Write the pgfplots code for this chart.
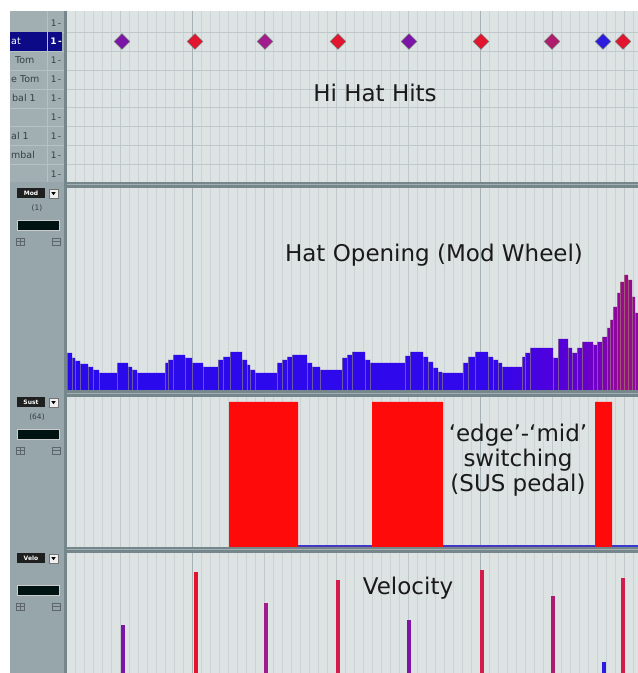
\documentclass[border=0pt]{standalone}
\usepackage{pgfplots}
\pgfplotsset{compat=1.18}
\usepackage{pgfplotstable}
\usepackage{fontspec}
\setmainfont{DejaVu Sans}

\definecolor{panelbg}{HTML}{DDE3E3}
\definecolor{gridmin}{HTML}{CBD3D4}
\definecolor{gridmaj}{HTML}{BFC8CA}
\definecolor{gridbar}{HTML}{A6B2B5}
\definecolor{sidebg}{HTML}{97A6AA}
\definecolor{sidecol}{HTML}{A2AFB2}
\definecolor{sideline}{HTML}{B6C1C3}
\definecolor{divider}{HTML}{76878B}
\definecolor{divlight}{HTML}{A3B1B4}
\definecolor{navy}{HTML}{0C0A86}
\definecolor{hpurple}{HTML}{7C14A8}
\definecolor{hred}{HTML}{E3142E}
\definecolor{hcrim}{HTML}{D41C4C}
\definecolor{hmag}{HTML}{A21C8E}
\definecolor{hrose}{HTML}{B01C6C}
\definecolor{hblue}{HTML}{2C1CE0}
\definecolor{modblue}{HTML}{2A0AEE}
\definecolor{sepcol}{HTML}{A09A70}
\definecolor{susred}{HTML}{FF0A0A}
\definecolor{susblue}{HTML}{3A3AD0}
\definecolor{labtext}{HTML}{1A1A1A}
\definecolor{sidetext}{HTML}{354045}

% horizontal colour run of the mod wheel bars (25bp = left edge, 75bp = right edge)
\pgfdeclarehorizontalshading{modshade}{100bp}{%
  rgb(0bp)=(0.16,0.04,0.93); rgb(25bp)=(0.16,0.04,0.93);
  rgb(62bp)=(0.19,0.03,0.92); rgb(68bp)=(0.32,0,0.86);
  rgb(71.5bp)=(0.45,0,0.76); rgb(73.9bp)=(0.63,0.04,0.52);
  rgb(75bp)=(0.52,0.04,0.64); rgb(100bp)=(0.52,0.04,0.64)}

\pgfplotsset{
  panel/.style={
    scale only axis, width=571pt, xmin=67, xmax=638,
    anchor=south west,
    axis line style={draw=none},
    axis background/.style={fill=panelbg},
    xtick={48,120,...,640}, minor xtick={66,75,...,640},
    extra x ticks={192,480}, extra x tick labels={},
    extra x tick style={major grid style={draw=gridbar, line width=1pt}},
    xticklabels={}, yticklabels={},
    major tick length=0pt, minor tick length=0pt,
    xmajorgrids, xminorgrids,
    major grid style={draw=gridmaj, line width=0.8pt},
    minor grid style={draw=gridmin, line width=0.6pt},
    ytick=\empty,
  },
  hit/.style={only marks, mark=square*, mark size=5.5pt,
    mark options={rotate=45, fill=#1, draw=black!55, line width=0.4pt}},
  vel/.style={ycomb, draw=#1, line width=3.2pt},
}

\pgfplotstableread{
x y
67 37.5
72 32.5
75 29.5
80 26.5
88 23.5
93 20.5
99 17.5
117 27.5
128 23.5
132 20.5
137 17.5
165 27.5
168 30.5
173 35.5
185 32.5
192 27.5
203 23.5
218 30.5
223 33.5
230 38.5
242 30.5
247 25.5
250 20.5
255 17.5
277 27.5
282 30.5
287 33.5
292 35.5
307 27.5
312 23.5
320 20.5
342 32.5
347 35.5
352 38.5
365 30.5
370 27.5
405 34.5
410 38.5
423 33.5
428 28.5
433 22.5
438 18.5
442 17.5
463 27.5
468 33.5
475 38.5
488 33.5
493 30.5
498 27.5
502 23.5
522 33.5
525 37.5
530 42.5
553 32.5
558 51.5
568 42.5
572 37.5
577 42.5
582 48.5
593 45.5
597 48.5
602 53.5
607 62.5
610 70.5
613 83.5
617 97.5
620 108.5
624 115.5
628 110.5
632 93.5
635 77.5
638 77.5
}\moddata

\newcommand{\ctrl}[3]{%
  \begin{scope}[shift={(0,#1pt)}]
    \fill[black!88] (17pt,0pt) rectangle (45pt,-10pt);
    \node[text=white, font=\fontsize{6}{6}\selectfont\bfseries] at (31pt,-5pt) {#2};
    \filldraw[fill=black!6, draw=black!55, line width=0.4pt] (49pt,-1pt) rectangle (58pt,-10pt);
    \fill[black] (51.3pt,-4.2pt) -- (55.7pt,-4.2pt) -- (53.5pt,-7.2pt) -- cycle;
    \node[text=sidetext, font=\fontsize{7.5}{8}\selectfont] at (37pt,-20pt) {#3};
    \filldraw[fill=black!85!teal, draw=black!20, line width=0.5pt] (17pt,-32pt) rectangle (59pt,-42pt);
    \draw[sidetext!80, line width=0.6pt] (16pt,-50pt) rectangle (24pt,-57pt)
      (20pt,-50pt) -- (20pt,-57pt) (16pt,-53.5pt) -- (24pt,-53.5pt);
    \draw[sidetext!80, line width=0.6pt] (52pt,-50pt) rectangle (60pt,-57pt)
      (52pt,-53.5pt) -- (60pt,-53.5pt);
  \end{scope}}

\begin{document}
\begin{tikzpicture}
\path[use as bounding box] (0,0) rectangle (638pt,673pt);
\clip (0,0) rectangle (638pt,673pt);
\fill[white] (0,0) rectangle (638pt,673pt);
\fill[sidebg] (10pt,0pt) rectangle (66pt,662pt);
\fill[sidecol] (10pt,491pt) rectangle (64pt,662pt);

% Hi hat hits
\begin{axis}[panel, at={(67pt,491pt)}, height=171pt,
  y dir=reverse, ymin=11, ymax=182,
  ytick={32.3,51.2,70.1,89,107.9,126.8,145.7,164.6}, ymajorgrids]
\addplot[hit=hpurple] coordinates {(122,41.5)(409,41.5)};
\addplot[hit=hred] coordinates {(195,41.5)(338,41.5)(481,41.5)(623,41.5)};
\addplot[hit=hmag] coordinates {(265,41.5)};
\addplot[hit=hrose] coordinates {(552,41.5)};
\addplot[hit=hblue] coordinates {(603,41.5)};
\end{axis}

% Hat opening (mod wheel)
\begin{axis}[panel, at={(67pt,282.5pt)}, height=202.5pt, ymin=0, ymax=202.5]
\addplot[const plot, shading=modshade, draw=none] table {\moddata} \closedcycle;
\addplot[ycomb, draw=sepcol, line width=0.45pt, opacity=0.55] table {\moddata};
\end{axis}

% SUS pedal
\begin{axis}[panel, at={(67pt,126pt)}, height=150pt, ymin=0, ymax=150]
\addplot[susblue, line width=1.8pt] coordinates {(298,1)(638,1)};
\addplot[const plot, fill=susred, draw=none] coordinates
  {(229,145)(298,0)(372,145)(443,0)(595,145)(612,0)} \closedcycle;
\end{axis}

% Velocity
\begin{axis}[panel, at={(67pt,0pt)}, height=120pt, ymin=0, ymax=120]
\addplot[vel=hpurple] coordinates {(123,48)(409,53)};
\addplot[vel=hred] coordinates {(196,101)};
\addplot[vel=hcrim] coordinates {(338,93)(482,103)(623,95)};
\addplot[vel=hmag] coordinates {(266,70)};
\addplot[vel=hrose] coordinates {(553,77)};
\addplot[vel=hblue] coordinates {(604,11)};
\end{axis}

% dividers and left border
\foreach \a/\b in {485/491, 276/282.5, 120/126} {
  \fill[divider] (64pt,\a pt) rectangle (638pt,\b pt);
  \draw[divlight, line width=1pt] (64pt,{(\a+\b)/2*1pt}) -- (638pt,{(\a+\b)/2*1pt});
}
\fill[divider] (64pt,0pt) rectangle (67pt,662pt);

% track list of the drum map
\foreach \yy in {640.7,621.8,602.9,584,565.1,546.2,527.3,508.4} {
  \draw[sideline, line width=0.7pt] (10pt,\yy pt) -- (64pt,\yy pt);
}
\fill[navy] (10pt,621.8pt) rectangle (62pt,640.7pt);
\draw[sideline, line width=0.8pt] (47.5pt,491pt) -- (47.5pt,662pt);
\foreach \yy in {650.2,612.4,593.5,574.6,555.7,536.8,517.9,499} {
  \node[text=sidetext, font=\fontsize{9}{10}\selectfont] at (56pt,\yy pt) {1\,-};
}
\node[text=white, font=\fontsize{9}{10}\selectfont\bfseries] at (56pt,631.3pt) {1\,-};
\begin{scope}[font=\fontsize{9.5}{10}\selectfont, anchor=west, inner sep=0pt]
  \node[text=white, anchor=west] at (11pt,631.3pt) {at};
  \node[text=sidetext, anchor=west] at (15pt,612.4pt) {Tom};
  \node[text=sidetext, anchor=west] at (11pt,593.5pt) {e Tom};
  \node[text=sidetext, anchor=west] at (12pt,574.6pt) {bal 1};
  \node[text=sidetext, anchor=west] at (11pt,536.8pt) {al 1};
  \node[text=sidetext, anchor=west] at (11pt,517.9pt) {mbal};
\end{scope}

% controller lane headers
\ctrl{485}{Mod}{(1)}
\ctrl{276}{Sust}{(64)}
\ctrl{120}{Velo}{}

% lane captions
\begin{scope}[every node/.style={font=\fontsize{23}{27}\selectfont, text=labtext, anchor=base}]
  \node at (375pt,571pt) {Hi Hat Hits};
  \node at (434pt,411pt) {Hat Opening (Mod Wheel)};
  \node at (518pt,231pt) {‘edge’-‘mid’};
  \node at (518pt,206pt) {switching};
  \node at (518pt,181pt) {(SUS pedal)};
  \node at (408pt,78pt) {Velocity};
\end{scope}
\end{tikzpicture}
\end{document}
